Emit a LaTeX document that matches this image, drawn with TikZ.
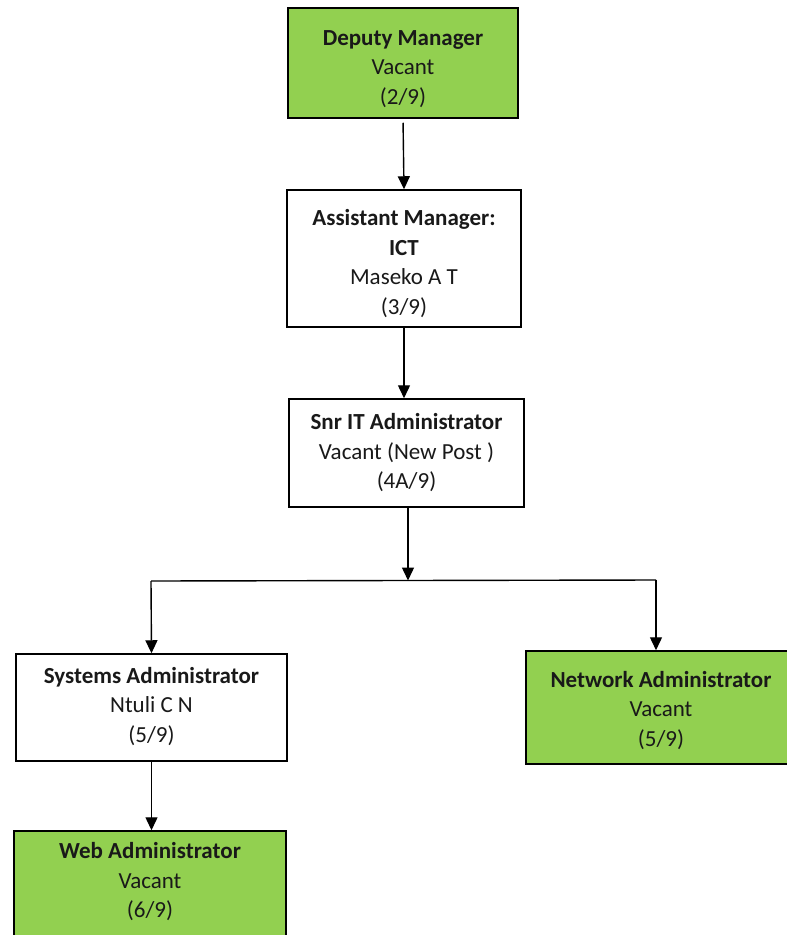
\documentclass[tikz,border=0pt]{standalone}
\usepackage{fontspec}
\setmainfont{Carlito}
\usetikzlibrary{arrows.meta}
\definecolor{vacantgreen}{RGB}{146,208,80}
\begin{document}
\begin{tikzpicture}[x=1pt,y=-1pt,
  post/.style={draw=black, line width=1.5pt, inner sep=0pt},
  vacant/.style={post, fill=vacantgreen},
  filled/.style={post, fill=white},
  caption/.style={align=center, inner sep=0pt,
    font=\fontsize{23}{29.5}\selectfont, text=black!90},
  link/.style={line width=1.4pt, -{Triangle[width=12pt,length=13pt]}},
  bar/.style={line width=1.4pt}]
\useasboundingbox (0,0) rectangle (787,935);
\clip (0,0) rectangle (787,935);

% post boxes
\node[vacant, minimum width=230pt, minimum height=110pt] (dep) at (403,63) {};
\node[filled, minimum width=234pt, minimum height=137pt] (asst) at (404,258.5) {};
\node[filled, minimum width=235pt, minimum height=108pt] (snr) at (406.5,453) {};
\node[filled, minimum width=271pt, minimum height=107pt] (sys) at (151.5,707.5) {};
\node[vacant, minimum width=270pt, minimum height=113pt] (net) at (661,707.5) {};
\node[vacant, minimum width=272pt, minimum height=108pt] (web) at (150,885) {};

% post titles, holders and grades
\node[caption, yshift=-6pt] (depT) at (dep.center)
  {\textbf{Deputy Manager}\\Vacant\\(2/9)};
\node[caption, yshift=-5pt] (asstT) at (asst.center)
  {\textbf{Assistant Manager:}\\\textbf{ICT}\\Maseko A T\\(3/9)};
\node[caption] (snrT) at (snr.center)
  {\textbf{Snr IT Administrator}\\Vacant (New Post )\\(4A/9)};
\node[caption, yshift=1pt] (sysT) at (sys.center)
  {\textbf{Systems Administrator}\\Ntuli C N\\(5/9)};
\node[caption, yshift=-3pt] (netT) at (net.center)
  {\textbf{Network Administrator}\\Vacant\\(5/9)};
\node[caption, yshift=3pt] (webT) at (web.center)
  {\textbf{Web Administrator}\\Vacant\\(6/9)};

% branch bar
\coordinate (barL) at (151,581);
\coordinate (barR) at (656,580);
\coordinate (barM) at (408,580.5);

% connectors
\draw[link, shorten <=4pt] (dep.south) -- (asst.north);
\draw[link] (asst.south) -- (asst.south |- snr.north);
\draw[link] (snr.south -| barM) -- (barM);
\draw[bar] (barL) -- (barR);
\draw[link] (barL) -- (sys.north);
\draw[link] (barR) -- (barR |- net.north);
\draw[link] (sys.south) -- (sys.south |- web.north);
\end{tikzpicture}
\end{document}
